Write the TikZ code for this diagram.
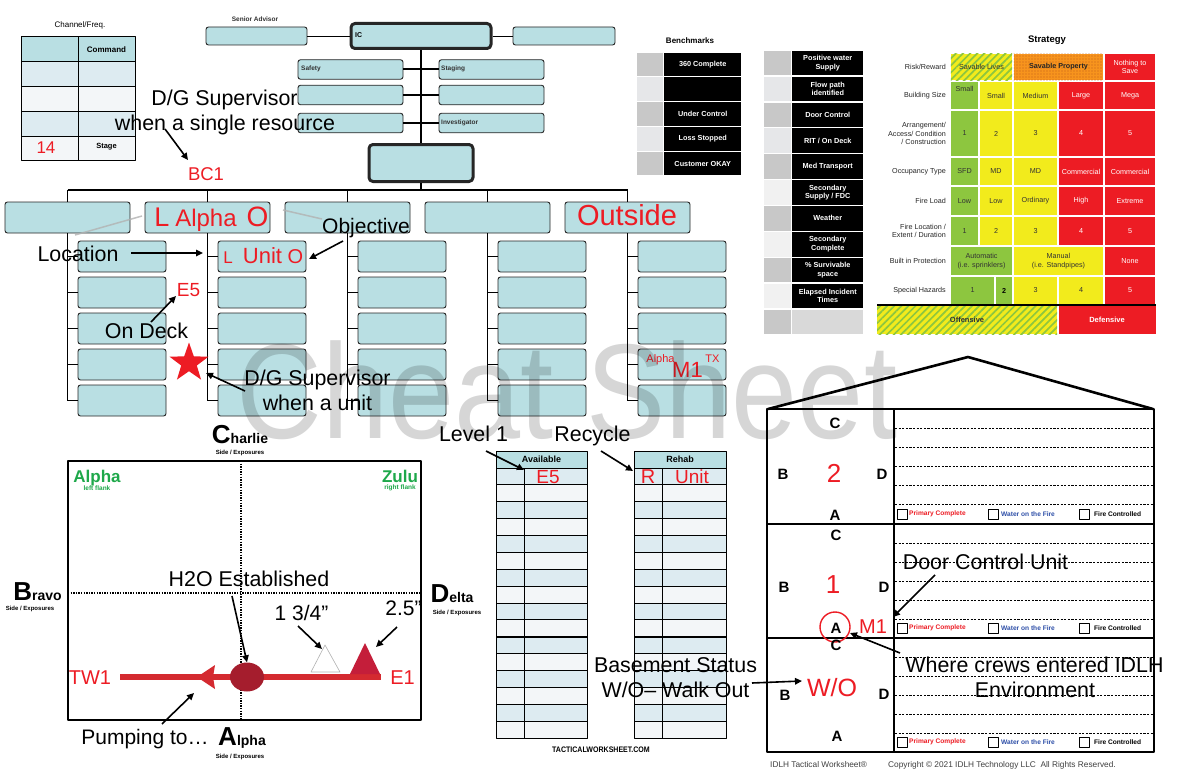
\documentclass[tikz,border=0pt]{standalone}
\usepackage{fontspec}
\setmainfont{Liberation Sans}
\usetikzlibrary{arrows.meta,patterns.meta,shapes.geometric}
\definecolor{teal1}{HTML}{B9DFE3}
\definecolor{tblblue}{HTML}{DDEBF1}
\definecolor{tblwhite}{HTML}{F3F6F8}
\definecolor{sred}{HTML}{ED1C24}
\definecolor{sgreen}{HTML}{8DC63F}
\definecolor{syellow}{HTML}{F2EB1C}
\definecolor{sorange}{HTML}{F7941D}
\definecolor{sorangedk}{HTML}{C0601A}
\definecolor{annred}{HTML}{ED1C24}
\definecolor{hosered}{HTML}{D42A30}
\definecolor{ellred}{HTML}{A51D2D}
\definecolor{trired}{HTML}{C41E3A}
\definecolor{grpgreen}{HTML}{1EA84A}
\definecolor{cbblue}{HTML}{2E4FA8}
\definecolor{ga}{HTML}{C8C8C8}
\definecolor{gb}{HTML}{E6E7E9}
\definecolor{gc}{HTML}{F1F1F1}
\definecolor{gd}{HTML}{D9D9D9}
\definecolor{celltext}{HTML}{333333}
\newcommand\myfs[2]{\fontsize{#1}{#2}\selectfont}
\newcommand\scell[7]{%
  \fill[#5] (#1+0.8,#2+0.8) rectangle (#3-0.8,#4-0.8);
  \node[font=\myfs{7.2}{8.5}, text=#6, align=center, inner sep=0pt] at ({(#1+#3)/2},{(#2+#4)/2}) {#7};
}
\newcommand\brow[8]{%
  \fill[#6] (#1+0.7,#4+0.7) rectangle (#2-0.7,#5-0.7);
  \fill[#7] (#2+0.7,#4+0.7) rectangle (#3-0.7,#5-0.7);
  \node[font=\bfseries\myfs{7.3}{8.6}, text=white, align=center, inner sep=0pt] at ({(#2+#3)/2},{(#4+#5)/2}) {#8};
}
\begin{document}
\begin{tikzpicture}[x=1pt,y=-1pt,line join=round,
  box/.style={draw=black!85, fill=teal1, rounded corners=2.5pt, line width=0.9pt, inner sep=0pt},
  bigbox/.style={box, line width=3pt, rounded corners=4pt},
  conn/.style={line width=1.8pt},
  arr/.style={-{Triangle[length=7pt,width=6.5pt]}, line width=1.6pt},
  ann/.style={font=\myfs{21.4}{24}, anchor=base, inner sep=0pt},
  redann/.style={text=annred, anchor=base, inner sep=0pt},
  tiny/.style={font=\bfseries\myfs{6.5}{7.5}, inner sep=0pt},
  blab/.style={font=\bfseries\myfs{15}{16}, inner sep=0pt},
  slab/.style={font=\myfs{7.2}{8.5}, text=black!85, align=right, anchor=east, inner sep=0pt},
  cbox/.style={draw=black, line width=0.8pt, minimum size=10pt, inner sep=0pt},
]
\useasboundingbox (0,0) rectangle (1200,776);
\fill[white] (0,0) rectangle (1200,776);

%% ---------- Channel / Freq table ----------
\node[font=\myfs{8}{9}] (chtitle) at (80,25) {Channel/Freq.};
\fill[teal1] (21,37) rectangle (135,62);
\fill[tblblue] (21,62) rectangle (135,87);
\fill[tblwhite] (21,87) rectangle (135,111);
\fill[tblblue] (21,111) rectangle (135,136);
\fill[tblwhite] (21,136) rectangle (135,160);
\draw[line width=1pt] (21,37) rectangle (135,160);
\foreach \y in {62,87,111,136} \draw[line width=1pt] (21,\y) -- (135,\y);
\draw[line width=1pt] (78,37) -- (78,160);
\node[font=\bfseries\myfs{8}{9}] (cmd) at (106.5,49.5) {Command};
\node[font=\myfs{17}{18}, text=annred] (ch14) at (46,148) {14};
\node[font=\bfseries\myfs{7.5}{9}] (stage) at (106.5,147) {Stage};

%% ---------- Command staff ----------
\node[font=\bfseries\myfs{6.5}{8}, text=black!80] (satitle) at (255,19) {Senior Advisor};
\node[box, minimum width=101pt, minimum height=18pt] (sa) at (256.5,36) {};
\node[bigbox, minimum width=140pt, minimum height=25pt] (ic) at (421,36) {};
\node[font=\bfseries\myfs{7}{8}, anchor=west, inner sep=0pt] (iclab) at (355,35) {IC};
\node[box, minimum width=102pt, minimum height=18pt] (rb) at (564,36) {};
\draw[line width=0.9pt] (sa.east) -- (ic.west);
\draw[line width=0.9pt] (ic.east) -- (rb.west);
\node[bigbox, minimum width=104pt, minimum height=37pt] (ops) at (421,163) {};
\draw[line width=2.4pt] (ic.south) -- (ops.north);
\foreach \i/\yy in {1/69.5,2/95,3/123}{
  \node[box, minimum width=105pt, minimum height=19.5pt] (sl\i) at (350.5,\yy) {};
  \node[box, minimum width=105pt, minimum height=19.5pt] (sr\i) at (491.5,\yy) {};
}
\foreach \i in {1,2,3} \draw[line width=2pt] (sl\i.east) -- (sr\i.west);
\node[font=\bfseries\myfs{6.5}{8}, text=black!80, anchor=west, inner sep=0pt] at (301,69) {Safety};
\node[font=\bfseries\myfs{6.5}{8}, text=black!80, anchor=west, inner sep=0pt] at (441,69) {Staging};
\node[font=\bfseries\myfs{6.5}{8}, text=black!80, anchor=west, inner sep=0pt] at (441,123) {Investigator};

%% ---------- Divisions and units ----------
\coordinate (bus) at (0,190);
\foreach \k in {0,...,4}{
  \pgfmathsetmacro\dc{67.5+140*\k}
  \node[box, minimum width=125pt, minimum height=31pt] (d\k) at (\dc,217.5) {};
  \draw[conn] (d\k.north) -- (d\k.north |- bus);
  \foreach \r in {0,...,4}{
    \pgfmathsetmacro\uy{256.5+36*\r}
    \node[box, minimum width=88pt, minimum height=31pt] (u\k\r) at (\dc+54.5,\uy) {};
    \draw[conn] (d\k.south |- u\k\r.west) -- (u\k\r.west);
  }
  \draw[conn] (d\k.south) -- (d\k.south |- u\k4.west);
}
\draw[conn] (d0.north |- bus) -- (d4.north |- bus);
\draw[conn] (ops.south) -- (ops.south |- bus);

%% labels in the org chart
\node[redann, font=\myfs{27}{28}] (la) at (162,226) {L};
\node[redann, font=\myfs{24}{26}] (alp) at (206,226) {Alpha};
\node[redann, font=\myfs{28}{30}] (lo) at (257.5,226) {O};
\node[redann, font=\myfs{29}{31}] (outs) at (627,225.5) {Outside};
\node[redann, font=\myfs{17}{18}] (ul) at (228,263) {L};
\node[redann, font=\myfs{22}{24}] (uunit) at (262.5,263) {Unit};
\node[redann, font=\myfs{20}{22}] (uo) at (295.5,263) {O};
\node[redann, font=\myfs{11}{12}] (malpha) at (660.5,362) {Alpha};
\node[redann, font=\myfs{22}{24}] (m1) at (687.5,377) {M1};
\node[redann, font=\myfs{11}{12}] (mtx) at (712.5,362) {TX};
\node[redann, font=\myfs{19}{20}] (e5a) at (188.5,296) {E5};
\node[redann, font=\myfs{18.5}{20}] (bc1) at (206,180) {BC1};

\draw[gray!60, line width=1.5pt, opacity=0.8] (75,235) -- (142,216);
\draw[gray!60, line width=1.5pt, opacity=0.8] (283,210) -- (322,219);

\node[ann] (dg1) at (224.5,105.5) {D/G Supervisor};
\node[ann] (dg2) at (225,130) {when a single resource};
\coordinate (bc1tip) at (188,160);
\draw[arr] (165,129) -- (bc1tip);

\node[ann] (loc) at (78,261) {Location};
\coordinate (loctip) at (203,253);
\coordinate (locstart) at (131,253);
\draw[arr] (locstart) -- (loctip);
\node[ann, font=\myfs{21}{23}] (obj) at (366,233) {Objective};
\coordinate (objtip) at (309,259);
\draw[arr] (343,241) -- (objtip);
\node[ann] (ondeck) at (146.5,338) {On Deck};
\coordinate (e5tip) at (176,296);
\draw[arr] (151,322) -- (e5tip);
\node[star, star points=5, star point ratio=2.5, fill=sred, minimum size=41pt, inner sep=0pt] (star) at (189,363) {};
\node[ann] (dgu1) at (317.5,385) {D/G Supervisor};
\node[ann] (dgu2) at (317.5,410) {when a unit};
\coordinate (startip) at (206,373);
\draw[arr] (245,391) -- (startip);

%% ---------- Benchmarks ----------
\node[font=\bfseries\myfs{8}{9}] (bmtitle) at (690,41) {Benchmarks};
\brow{636}{663.5}{742}{52}{76.8}{ga}{black}{360 Complete}
\brow{636}{663.5}{742}{76.8}{101.6}{gb}{black}{}
\brow{636}{663.5}{742}{101.6}{126.4}{ga}{black}{Under Control}
\brow{636}{663.5}{742}{126.4}{151.2}{gb}{black}{Loss Stopped}
\brow{636}{663.5}{742}{151.2}{176}{ga}{black}{Customer OKAY}

\brow{763}{791.5}{864}{50}{75.9}{ga}{black}{Positive water\\Supply}
\brow{763}{791.5}{864}{75.9}{101.8}{gb}{black}{Flow path\\identified}
\brow{763}{791.5}{864}{101.8}{127.7}{ga}{black}{Door Control}
\brow{763}{791.5}{864}{127.7}{153.6}{gb}{black}{RIT / On Deck}
\brow{763}{791.5}{864}{153.6}{179.5}{ga}{black}{Med Transport}
\brow{763}{791.5}{864}{179.5}{205.4}{gc}{black}{Secondary\\Supply / FDC}
\brow{763}{791.5}{864}{205.4}{231.3}{ga}{black}{Weather}
\brow{763}{791.5}{864}{231.3}{257.2}{gc}{black}{Secondary\\Complete}
\brow{763}{791.5}{864}{257.2}{283.1}{ga}{black}{\% Survivable\\space}
\brow{763}{791.5}{864}{283.1}{309}{gc}{black}{Elapsed Incident\\Times}
\brow{763}{791.5}{864}{309}{334.9}{ga}{gd}{}

%% ---------- Strategy ----------
\node[font=\bfseries\myfs{9.5}{11}] (sttitle) at (1047,40) {Strategy};
% row 1
\fill[syellow] (950.8,53.8) rectangle (1012.2,80.2);
\fill[pattern={Lines[angle=45,distance=5pt,line width=1.7pt]}, pattern color=sgreen] (950.8,53.8) rectangle (1012.2,80.2);
\node[font=\myfs{7.2}{8.5}, text=celltext] at (981.5,67) {Savable Lives};
\fill[sorange] (1013.8,53.8) rectangle (1103.2,80.2);
\fill[pattern={Dots[distance=3pt,radius=0.7pt]}, pattern color=sorangedk] (1013.8,53.8) rectangle (1103.2,80.2);
\node[font=\bfseries\myfs{7.2}{8.5}, text=black!85] at (1058.5,67) {Savable Property};
\scell{1104}{53}{1156}{81}{sred}{white}{Nothing to\\Save}
% row 2
\scell{950}{81}{979}{110}{sgreen}{celltext}{Small\\[4pt]\mbox{}}
\scell{979}{81}{1013}{110}{syellow}{celltext}{Small}
\scell{1013}{81}{1058}{110}{syellow}{celltext}{Medium}
\scell{1058}{81}{1104}{110}{sred}{white}{Large}
\scell{1104}{81}{1156}{110}{sred}{white}{Mega}
% row 3
\scell{950}{110}{979}{157}{sgreen}{celltext}{1}
\scell{979}{110}{1013}{157}{syellow}{celltext}{2}
\scell{1013}{110}{1058}{157}{syellow}{celltext}{3}
\scell{1058}{110}{1104}{157}{sred}{white}{4}
\scell{1104}{110}{1156}{157}{sred}{white}{5}
% row 4
\scell{950}{157}{979}{186}{sgreen}{celltext}{SFD}
\scell{979}{157}{1013}{186}{syellow}{celltext}{MD}
\scell{1013}{157}{1058}{186}{syellow}{celltext}{MD}
\scell{1058}{157}{1104}{186}{sred}{white}{Commercial}
\scell{1104}{157}{1156}{186}{sred}{white}{Commercial}
% row 5
\scell{950}{186}{979}{216}{sgreen}{celltext}{Low}
\scell{979}{186}{1013}{216}{syellow}{celltext}{Low}
\scell{1013}{186}{1058}{216}{syellow}{celltext}{Ordinary}
\scell{1058}{186}{1104}{216}{sred}{white}{High}
\scell{1104}{186}{1156}{216}{sred}{white}{Extreme}
% row 6
\scell{950}{216}{979}{246}{sgreen}{celltext}{1}
\scell{979}{216}{1013}{246}{syellow}{celltext}{2}
\scell{1013}{216}{1058}{246}{syellow}{celltext}{3}
\scell{1058}{216}{1104}{246}{sred}{white}{4}
\scell{1104}{216}{1156}{246}{sred}{white}{5}
% row 7
\scell{950}{246}{1013}{276}{sgreen}{celltext}{Automatic\\(i.e. sprinklers)}
\scell{1013}{246}{1104}{276}{syellow}{celltext}{Manual\\(i.e. Standpipes)}
\scell{1104}{246}{1156}{276}{sred}{white}{None}
% row 8
\scell{950}{276}{995}{305}{sgreen}{celltext}{1}
\scell{995}{276}{1013}{305}{sgreen}{black}{\bfseries 2}
\scell{1013}{276}{1058}{305}{syellow}{celltext}{3}
\scell{1058}{276}{1104}{305}{syellow}{celltext}{4}
\scell{1104}{276}{1156}{305}{sred}{white}{5}
% bottom
\fill[syellow] (877,305.8) rectangle (1057.2,334.2);
\fill[pattern={Lines[angle=45,distance=5pt,line width=1.7pt]}, pattern color=sgreen] (877,305.8) rectangle (1057.2,334.2);
\node[font=\bfseries\myfs{7.5}{8.5}, text=celltext] at (967,320) {Offensive};
\fill[sred] (1058.8,305.8) rectangle (1156,334.2);
\node[font=\bfseries\myfs{7.5}{8.5}, text=white] at (1107,320) {Defensive};
\draw[line width=1.5pt] (877,305) -- (1156,305);
% labels
\node[slab] at (946,67) {Risk/Reward};
\node[slab] at (946,95.5) {Building Size};
\node[slab] at (946,133.5) {Arrangement/\\Access/ Condition\\/ Construction};
\node[slab] at (946,171.5) {Occupancy Type};
\node[slab] at (946,201) {Fire Load};
\node[slab] at (946,231) {Fire Location /\\Extent / Duration};
\node[slab] at (946,261) {Built in Protection};
\node[slab] at (946,290.5) {Special Hazards};

%% ---------- Compass / site plan ----------
\draw[line width=2.2pt] (68,461) rectangle (421,720);
\draw[line width=2.6pt, dash pattern=on 1.3pt off 1.3pt] (241,461) -- (241,720);
\draw[line width=2.6pt, dash pattern=on 1.3pt off 1.3pt] (68,593) -- (421,593);
\node[anchor=base, inner sep=0pt, font=\bfseries] (charlie) at (240,443) {\myfs{26}{28}C\myfs{14}{15}harlie};
\node[tiny, font=\bfseries\myfs{6}{7}] at (240,453) {Side / Exposures};
\node[anchor=base, inner sep=0pt, font=\bfseries] (bravo) at (37.5,600) {\myfs{26}{28}B\myfs{14}{15}ravo};
\node[tiny, font=\bfseries\myfs{6}{7}] at (30,609) {Side / Exposures};
\node[anchor=base, inner sep=0pt, font=\bfseries] (delta) at (452,602) {\myfs{26}{28}D\myfs{14}{15}elta};
\node[tiny, font=\bfseries\myfs{6}{7}] at (457,613) {Side / Exposures};
\node[anchor=base, inner sep=0pt, font=\bfseries] (alphaS) at (242,745) {\myfs{26}{28}A\myfs{14}{15}lpha};
\node[tiny, font=\bfseries\myfs{6}{7}] at (240,757) {Side / Exposures};
\node[anchor=base, inner sep=0pt, font=\bfseries\myfs{17}{18}, text=grpgreen] (galpha) at (97,482) {Alpha};
\node[tiny, text=grpgreen] at (97,488) {left flank};
\node[anchor=base, inner sep=0pt, font=\bfseries\myfs{17}{18}, text=grpgreen] (gzulu) at (400,482) {Zulu};
\node[tiny, text=grpgreen] at (400,488) {right flank};

\coordinate (tw1end) at (120,677);
\coordinate (e1end) at (381,677);
\draw[hosered, line width=6pt] (tw1end) -- (e1end);
\fill[hosered] (197,677) -- (215,665) -- (213,677) -- (215,689) -- cycle;
\node[ellipse, fill=ellred, minimum width=34pt, minimum height=29pt, inner sep=0pt] (h2o) at (247,677) {};
\draw[gray!60, line width=0.6pt, fill=white] (325,645) -- (311,672) -- (340,672) -- cycle;
\coordinate (smalltri) at (322,649);
\fill[trired] (365,643) -- (350,674) -- (380,674) -- cycle;
\coordinate (bigtri) at (376,647);
\node[redann, font=\myfs{20}{22}] (tw1) at (90,684) {TW1};
\node[redann, font=\myfs{20}{22}] (e1) at (402.5,684) {E1};
\node[ann] (h2olab) at (249,586) {H2O Established};
\draw[arr] (232,596) -- (h2o.north);
\node[ann, font=\myfs{21}{23}] (h134) at (301.5,620) {1 3/4”};
\draw[arr] (298,626) -- (smalltri);
\node[ann, font=\myfs{21}{23}] (h25) at (403.5,615) {2.5”};
\draw[arr] (397,627) -- (bigtri);
\node[ann, font=\myfs{21}{23}] (pump) at (145,744) {Pumping to…};
\coordinate (pumptip) at (194,693);
\draw[arr] (162,724) -- (pumptip);

%% ---------- Available / Rehab ----------
\foreach \xa/\xs/\xb/\hd in {496/524/587/Available,634/662/726/Rehab}{
  \fill[teal1] (\xa,451) rectangle (\xb,468);
  \foreach \i in {0,...,15}{
    \pgfmathsetmacro\ya{468+16.875*\i}
    \pgfmathsetmacro\yb{468+16.875*(\i+1)}
    \pgfmathtruncatemacro\rowpar{mod(\i,2)}
    \ifnum\rowpar=0 \fill[tblblue] (\xa,\ya) rectangle (\xb,\yb); \else \fill[tblwhite] (\xa,\ya) rectangle (\xb,\yb); \fi
  }
  \foreach \i in {1,...,15}{
    \pgfmathsetmacro\yl{468+16.875*\i}
    \draw[line width=0.9pt] (\xa,\yl) -- (\xb,\yl);
  }
  \draw[line width=1pt] (\xa,451) rectangle (\xb,738);
  \draw[line width=0.9pt] (\xa,468) -- (\xb,468);
  \draw[line width=0.9pt] (\xs,468) -- (\xs,738);
  \draw[line width=2pt] (\xa,636.75) -- (\xb,636.75);
  \node[font=\bfseries\myfs{9}{10}] at ({(\xa+\xb)/2},459.5) {\hd};
}
\node[redann, font=\myfs{19}{20}] (e5b) at (548,483) {E5};
\node[redann, font=\myfs{20}{21}] (rr) at (648,483) {R};
\node[redann, font=\myfs{19}{20}] (runit) at (692,483) {Unit};
\node[ann] (lvl) at (473.5,441) {Level 1};
\coordinate (lvltip) at (524,470);
\draw[arr] (486,451) -- (lvltip);
\node[ann] (rec) at (592.5,441) {Recycle};
\coordinate (rectip) at (633,471);
\draw[arr] (601,451) -- (rectip);
\node[font=\bfseries\myfs{8}{9}, xscale=0.88] (tws) at (601,750) {TACTICALWORKSHEET.COM};

%% ---------- Building ----------
\draw[line width=2.6pt] (767,409) rectangle (1154,752);
\draw[line width=2.6pt] (768,409) -- (968,357) -- (1153,409);
\draw[line width=1.2pt] (894,409) -- (894,752);
\draw[line width=1.4pt] (767,524) -- (1154,524);
\draw[line width=1.4pt] (767,638) -- (1154,638);
\foreach \f in {409,524,638}{
  \foreach \i in {1,...,5}
    \draw[line width=0.7pt, dash pattern=on 2.2pt off 1.4pt] (895,\f+19*\i) -- (1153,\f+19*\i);
}
\foreach \yy in {514,628,742}{
  \node[cbox] at (902,\yy) {};
  \node[cbox] at (993,\yy) {};
  \node[cbox] at (1084,\yy) {};
  \node[font=\bfseries\myfs{6.6}{7.5}, text=sred, anchor=west, inner sep=0pt] at (909,\yy) {Primary Complete};
  \node[font=\bfseries\myfs{6.6}{7.5}, text=cbblue, anchor=west, inner sep=0pt] at (1001,\yy) {Water on the Fire};
  \node[font=\bfseries\myfs{6.6}{7.5}, text=black, anchor=west, inner sep=0pt] at (1094,\yy) {Fire Controlled};
}
\node[blab] at (835,423) {C};
\node[blab] at (783,474) {B};
\node[font=\myfs{26}{28}, text=annred, inner sep=0pt] at (834,473) {2};
\node[blab] at (882,474) {D};
\node[blab] at (835,515) {A};
\node[blab] at (836,535) {C};
\node[blab] at (784,587) {B};
\node[font=\myfs{26}{28}, text=annred, inner sep=0pt] at (833,585) {1};
\node[blab] at (884,587) {D};
\node[blab] (afloor) at (836,628) {A};
\draw[sred, line width=1.4pt] (835,627) circle[radius=15];
\node[font=\myfs{20}{22}, text=annred, inner sep=0pt] (m1b) at (873,627) {M1};
\node[blab] at (836,645) {C};
\node[blab] at (785,695) {B};
\node[font=\myfs{25}{27}, text=annred, inner sep=0pt] (wo) at (832,688) {W/O};
\node[blab] at (884,694) {D};
\node[blab] at (837,736) {A};

\node[ann] (dcu) at (985.5,569) {Door Control Unit};
\coordinate (dcutip) at (893,617);
\draw[arr] (935,575) -- (dcutip);
\node[ann] (wce1) at (1034.5,672) {Where crews entered IDLH};
\node[ann] (wce2) at (1035,697) {Environment};
\coordinate (wcetip) at (850,633);
\draw[arr] (900,653) -- (wcetip);

\node[ann] (bs1) at (675.5,672) {Basement Status};
\node[ann] (bs2) at (675.5,697) {W/O– Walk Out};
\coordinate (bstip) at (802,681);
\draw[arr] (752,683) -- (bstip);

\node[font=\myfs{8.3}{9}, text=black!75, anchor=west, inner sep=0pt] (foot1) at (770,765) {IDLH Tactical Worksheet®};
\node[font=\myfs{8.3}{9}, text=black!75, anchor=west, inner sep=0pt] (foot2) at (888,765) {Copyright © 2021 IDLH Technology LLC\ \ All Rights Reserved.};

%% ---------- Watermark ----------
\node[font=\myfs{135}{140}, text=black, opacity=0.16, xscale=0.88, anchor=base, inner sep=0pt] (wm) at (567,438) {Cheat Sheet};
\end{tikzpicture}
\end{document}
